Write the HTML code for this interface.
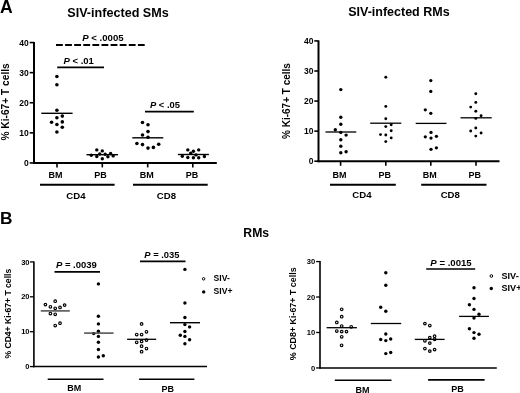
<!DOCTYPE html>
<html><head><meta charset="utf-8"><style>
html,body{margin:0;padding:0;background:#fff;width:520px;height:393px;overflow:hidden}
svg{display:block;filter:grayscale(1)}
text{font-family:'Liberation Sans',sans-serif;font-weight:bold;fill:#000}
</style></head><body>
<svg width="520" height="393" viewBox="0 0 520 393">
<rect width="520" height="393" fill="#fff"/>
<text x="-0.10" y="12.60" font-size="17.6" text-anchor="start" >A</text>
<text x="118.00" y="16.60" font-size="12.6" text-anchor="middle" >SIV-infected SMs</text>
<line x1="34.00" y1="42.05" x2="34.00" y2="163.95" stroke="#000" stroke-width="2" />
<line x1="29.70" y1="162.95" x2="34.00" y2="162.95" stroke="#000" stroke-width="1.6" />
<text x="28.80" y="166.05" font-size="8.5" text-anchor="end" >0</text>
<line x1="29.70" y1="132.85" x2="34.00" y2="132.85" stroke="#000" stroke-width="1.6" />
<text x="28.80" y="135.95" font-size="8.5" text-anchor="end" >10</text>
<line x1="29.70" y1="102.75" x2="34.00" y2="102.75" stroke="#000" stroke-width="1.6" />
<text x="28.80" y="105.85" font-size="8.5" text-anchor="end" >20</text>
<line x1="29.70" y1="72.65" x2="34.00" y2="72.65" stroke="#000" stroke-width="1.6" />
<text x="28.80" y="75.75" font-size="8.5" text-anchor="end" >30</text>
<line x1="29.70" y1="42.55" x2="34.00" y2="42.55" stroke="#000" stroke-width="1.6" />
<text x="28.80" y="45.65" font-size="8.5" text-anchor="end" >40</text>
<line x1="33.00" y1="162.95" x2="216.80" y2="162.95" stroke="#000" stroke-width="2" />
<line x1="57.00" y1="162.95" x2="57.00" y2="167.40" stroke="#000" stroke-width="1.6" />
<line x1="102.30" y1="162.95" x2="102.30" y2="167.40" stroke="#000" stroke-width="1.6" />
<line x1="147.70" y1="162.95" x2="147.70" y2="167.40" stroke="#000" stroke-width="1.6" />
<line x1="192.80" y1="162.95" x2="192.80" y2="167.40" stroke="#000" stroke-width="1.6" />
<text x="55.50" y="177.80" font-size="9" text-anchor="middle" >BM</text>
<text x="100.60" y="177.80" font-size="9" text-anchor="middle" >PB</text>
<text x="146.80" y="177.80" font-size="9" text-anchor="middle" >BM</text>
<text x="192.10" y="177.80" font-size="9" text-anchor="middle" >PB</text>
<line x1="40.00" y1="184.80" x2="114.60" y2="184.80" stroke="#000" stroke-width="1.9" />
<line x1="133.00" y1="184.80" x2="207.70" y2="184.80" stroke="#000" stroke-width="1.9" />
<text x="75.90" y="198.50" font-size="9.6" text-anchor="middle" >CD4</text>
<text x="166.40" y="199.10" font-size="9.6" text-anchor="middle" >CD8</text>
<text transform="translate(9.0,101.9) rotate(-90)" font-size="10.2" text-anchor="middle">% Ki-67+ T cells</text>
<circle cx="56.9" cy="76.5" r="1.8" fill="#000"/>
<circle cx="56.9" cy="84.7" r="1.8" fill="#000"/>
<circle cx="56.9" cy="110.2" r="1.8" fill="#000"/>
<circle cx="56.9" cy="117.7" r="1.8" fill="#000"/>
<circle cx="62.3" cy="116.1" r="1.8" fill="#000"/>
<circle cx="51.6" cy="122.3" r="1.8" fill="#000"/>
<circle cx="56.9" cy="124.5" r="1.8" fill="#000"/>
<circle cx="62.3" cy="121.9" r="1.8" fill="#000"/>
<circle cx="62.3" cy="127.2" r="1.8" fill="#000"/>
<circle cx="56.9" cy="132" r="1.8" fill="#000"/>
<line x1="41.30" y1="113.30" x2="72.60" y2="113.30" stroke="#000" stroke-width="1.4" />
<circle cx="96.8" cy="149.9" r="1.7" fill="#000"/>
<circle cx="102.3" cy="150.9" r="1.7" fill="#000"/>
<circle cx="91.3" cy="155.2" r="1.7" fill="#000"/>
<circle cx="96.8" cy="156.5" r="1.7" fill="#000"/>
<circle cx="99.7" cy="154" r="1.7" fill="#000"/>
<circle cx="105.2" cy="154.2" r="1.7" fill="#000"/>
<circle cx="102.3" cy="158.75" r="1.7" fill="#000"/>
<circle cx="107.9" cy="156.8" r="1.7" fill="#000"/>
<circle cx="110.6" cy="153.5" r="1.7" fill="#000"/>
<circle cx="113.2" cy="155.9" r="1.7" fill="#000"/>
<line x1="86.50" y1="154.70" x2="118.00" y2="154.70" stroke="#000" stroke-width="1.4" />
<circle cx="142.5" cy="122.5" r="1.8" fill="#000"/>
<circle cx="148" cy="124.8" r="1.8" fill="#000"/>
<circle cx="148" cy="131.6" r="1.8" fill="#000"/>
<circle cx="142.5" cy="135" r="1.8" fill="#000"/>
<circle cx="148" cy="137.3" r="1.8" fill="#000"/>
<circle cx="136.9" cy="143.5" r="1.8" fill="#000"/>
<circle cx="142.5" cy="144.6" r="1.8" fill="#000"/>
<circle cx="148" cy="148.1" r="1.8" fill="#000"/>
<circle cx="153.4" cy="147.4" r="1.8" fill="#000"/>
<circle cx="158.7" cy="144.2" r="1.8" fill="#000"/>
<line x1="132.30" y1="137.80" x2="163.30" y2="137.80" stroke="#000" stroke-width="1.4" />
<circle cx="187.8" cy="149.9" r="1.7" fill="#000"/>
<circle cx="193.4" cy="151.3" r="1.7" fill="#000"/>
<circle cx="198.7" cy="149.9" r="1.7" fill="#000"/>
<circle cx="190.7" cy="153.3" r="1.7" fill="#000"/>
<circle cx="182.3" cy="156.3" r="1.7" fill="#000"/>
<circle cx="187.8" cy="157.5" r="1.7" fill="#000"/>
<circle cx="193.4" cy="157.8" r="1.7" fill="#000"/>
<circle cx="198.7" cy="157.8" r="1.7" fill="#000"/>
<circle cx="196" cy="154.9" r="1.7" fill="#000"/>
<circle cx="204.4" cy="156.5" r="1.7" fill="#000"/>
<line x1="177.90" y1="154.50" x2="208.90" y2="154.50" stroke="#000" stroke-width="1.4" />
<text x="102.9" y="40.5" font-size="9.6" text-anchor="middle"><tspan font-style="italic">P</tspan> &lt; .0005</text>
<line x1="56.00" y1="45.00" x2="144.70" y2="45.00" stroke="#000" stroke-width="1.8" stroke-dasharray="6.8 2.3"/>
<text x="78.7" y="63.8" font-size="9.5" text-anchor="middle"><tspan font-style="italic">P</tspan> &lt; .01</text>
<line x1="57.20" y1="67.40" x2="104.00" y2="67.40" stroke="#000" stroke-width="1.8" />
<text x="165" y="107.7" font-size="9.4" text-anchor="middle"><tspan font-style="italic">P</tspan> &lt; .05</text>
<line x1="145.00" y1="111.60" x2="193.80" y2="111.60" stroke="#000" stroke-width="1.8" />
<text x="398.90" y="16.40" font-size="12.5" text-anchor="middle" >SIV-infected RMs</text>
<line x1="318.50" y1="40.42" x2="318.50" y2="162.20" stroke="#000" stroke-width="2" />
<line x1="314.30" y1="161.20" x2="318.50" y2="161.20" stroke="#000" stroke-width="1.6" />
<text x="313.40" y="164.30" font-size="8.5" text-anchor="end" >0</text>
<line x1="314.30" y1="131.13" x2="318.50" y2="131.13" stroke="#000" stroke-width="1.6" />
<text x="313.40" y="134.23" font-size="8.5" text-anchor="end" >10</text>
<line x1="314.30" y1="101.06" x2="318.50" y2="101.06" stroke="#000" stroke-width="1.6" />
<text x="313.40" y="104.16" font-size="8.5" text-anchor="end" >20</text>
<line x1="314.30" y1="70.99" x2="318.50" y2="70.99" stroke="#000" stroke-width="1.6" />
<text x="313.40" y="74.09" font-size="8.5" text-anchor="end" >30</text>
<line x1="314.30" y1="40.92" x2="318.50" y2="40.92" stroke="#000" stroke-width="1.6" />
<text x="313.40" y="44.02" font-size="8.5" text-anchor="end" >40</text>
<line x1="317.50" y1="161.20" x2="499.50" y2="161.20" stroke="#000" stroke-width="2" />
<line x1="340.60" y1="161.20" x2="340.60" y2="165.80" stroke="#000" stroke-width="1.6" />
<line x1="385.80" y1="161.20" x2="385.80" y2="165.80" stroke="#000" stroke-width="1.6" />
<line x1="430.80" y1="161.20" x2="430.80" y2="165.80" stroke="#000" stroke-width="1.6" />
<line x1="476.00" y1="161.20" x2="476.00" y2="165.80" stroke="#000" stroke-width="1.6" />
<text x="339.50" y="177.70" font-size="9" text-anchor="middle" >BM</text>
<text x="384.75" y="177.70" font-size="9" text-anchor="middle" >PB</text>
<text x="429.70" y="177.70" font-size="9" text-anchor="middle" >BM</text>
<text x="474.75" y="177.70" font-size="9" text-anchor="middle" >PB</text>
<line x1="330.00" y1="184.80" x2="395.80" y2="184.80" stroke="#000" stroke-width="1.9" />
<line x1="421.20" y1="184.80" x2="486.50" y2="184.80" stroke="#000" stroke-width="1.9" />
<text x="361.90" y="197.90" font-size="9.6" text-anchor="middle" >CD4</text>
<text x="450.30" y="197.90" font-size="9.6" text-anchor="middle" >CD8</text>
<text transform="translate(289.6,101) rotate(-90)" font-size="10" text-anchor="middle">% Ki-67+ T cells</text>
<circle cx="340.8" cy="89.6" r="1.7" fill="#000"/>
<circle cx="340.8" cy="117.3" r="1.7" fill="#000"/>
<circle cx="340.8" cy="124.3" r="1.7" fill="#000"/>
<circle cx="335.3" cy="129.8" r="1.7" fill="#000"/>
<circle cx="340.8" cy="132.4" r="1.7" fill="#000"/>
<circle cx="346.1" cy="135.1" r="1.7" fill="#000"/>
<circle cx="340.8" cy="139.8" r="1.7" fill="#000"/>
<circle cx="340.8" cy="146.3" r="1.7" fill="#000"/>
<circle cx="340.8" cy="152.7" r="1.7" fill="#000"/>
<circle cx="346.1" cy="151.8" r="1.7" fill="#000"/>
<line x1="325.50" y1="132.00" x2="356.30" y2="132.00" stroke="#000" stroke-width="1.3" />
<circle cx="385.8" cy="77.2" r="1.45" fill="#000"/>
<circle cx="385.8" cy="106.4" r="1.45" fill="#000"/>
<circle cx="385.8" cy="118.7" r="1.45" fill="#000"/>
<circle cx="385.8" cy="126.6" r="1.45" fill="#000"/>
<circle cx="391.2" cy="124.8" r="1.45" fill="#000"/>
<circle cx="391.2" cy="130.8" r="1.45" fill="#000"/>
<circle cx="380.5" cy="134.6" r="1.45" fill="#000"/>
<circle cx="385.8" cy="135" r="1.45" fill="#000"/>
<circle cx="391.2" cy="137.9" r="1.45" fill="#000"/>
<circle cx="385.8" cy="141.6" r="1.45" fill="#000"/>
<line x1="370.20" y1="123.20" x2="401.30" y2="123.20" stroke="#000" stroke-width="1.3" />
<circle cx="430.8" cy="80.6" r="1.65" fill="#000"/>
<circle cx="430.8" cy="91.4" r="1.65" fill="#000"/>
<circle cx="425.3" cy="109.8" r="1.65" fill="#000"/>
<circle cx="430.8" cy="113.3" r="1.65" fill="#000"/>
<circle cx="431" cy="132.4" r="1.65" fill="#000"/>
<circle cx="425.3" cy="136.8" r="1.65" fill="#000"/>
<circle cx="431" cy="138.1" r="1.65" fill="#000"/>
<circle cx="436.4" cy="136.3" r="1.65" fill="#000"/>
<circle cx="431" cy="149.3" r="1.65" fill="#000"/>
<circle cx="436.4" cy="147.8" r="1.65" fill="#000"/>
<line x1="415.70" y1="123.40" x2="446.50" y2="123.40" stroke="#000" stroke-width="1.3" />
<circle cx="475.8" cy="93.7" r="1.45" fill="#000"/>
<circle cx="475.8" cy="102.4" r="1.45" fill="#000"/>
<circle cx="470.7" cy="107.1" r="1.45" fill="#000"/>
<circle cx="475.8" cy="111.2" r="1.45" fill="#000"/>
<circle cx="481.1" cy="115.7" r="1.45" fill="#000"/>
<circle cx="475.8" cy="118.4" r="1.45" fill="#000"/>
<circle cx="475.8" cy="128" r="1.45" fill="#000"/>
<circle cx="470.7" cy="131" r="1.45" fill="#000"/>
<circle cx="481.1" cy="133" r="1.45" fill="#000"/>
<circle cx="475.8" cy="136.1" r="1.45" fill="#000"/>
<line x1="460.50" y1="117.80" x2="491.70" y2="117.80" stroke="#000" stroke-width="1.3" />
<text x="-0.10" y="224.30" font-size="17.3" text-anchor="start" >B</text>
<text x="256.20" y="237.00" font-size="12.2" text-anchor="middle" >RMs</text>
<line x1="33.90" y1="261.43" x2="33.90" y2="367.27" stroke="#000" stroke-width="1.6" />
<line x1="30.00" y1="366.57" x2="33.90" y2="366.57" stroke="#000" stroke-width="1.3" />
<text x="29.60" y="369.17" font-size="7.6" text-anchor="end" >0</text>
<line x1="30.00" y1="331.69" x2="33.90" y2="331.69" stroke="#000" stroke-width="1.3" />
<text x="29.60" y="334.29" font-size="7.6" text-anchor="end" >10</text>
<line x1="30.00" y1="296.81" x2="33.90" y2="296.81" stroke="#000" stroke-width="1.3" />
<text x="29.60" y="299.41" font-size="7.6" text-anchor="end" >20</text>
<line x1="30.00" y1="261.93" x2="33.90" y2="261.93" stroke="#000" stroke-width="1.3" />
<text x="29.60" y="264.53" font-size="7.6" text-anchor="end" >30</text>
<line x1="33.00" y1="366.57" x2="207.00" y2="366.57" stroke="#000" stroke-width="1.4" />
<line x1="47.70" y1="379.20" x2="103.50" y2="379.20" stroke="#000" stroke-width="1.6" />
<line x1="139.10" y1="379.20" x2="194.40" y2="379.20" stroke="#000" stroke-width="1.6" />
<text x="74.30" y="391.30" font-size="9" text-anchor="middle" >BM</text>
<text x="167.80" y="392.00" font-size="9" text-anchor="middle" >PB</text>
<text transform="translate(10.5,313.7) rotate(-90)" font-size="8.6" text-anchor="middle">% CD4+ Ki-67+ T cells</text>
<text x="76.4" y="267.5" font-size="9.5" text-anchor="middle"><tspan font-style="italic">P</tspan> = .0039</text>
<line x1="54.50" y1="271.80" x2="100.00" y2="271.80" stroke="#000" stroke-width="1.7" />
<text x="161.9" y="258.0" font-size="9.4" text-anchor="middle"><tspan font-style="italic">P</tspan> = .035</text>
<line x1="140.00" y1="261.40" x2="185.50" y2="261.40" stroke="#000" stroke-width="1.7" />
<circle cx="203.6" cy="278.8" r="1.25" fill="#fff" stroke="#000" stroke-width="1.0"/>
<circle cx="203.7" cy="291.9" r="1.7" fill="#000"/>
<text x="213.60" y="281.20" font-size="8.6" text-anchor="start" >SIV-</text>
<text x="213.60" y="294.40" font-size="8.6" text-anchor="start" >SIV+</text>
<circle cx="55.2" cy="301.2" r="1.3" fill="#fff" stroke="#000" stroke-width="1.15"/>
<circle cx="45.4" cy="304.6" r="1.3" fill="#fff" stroke="#000" stroke-width="1.15"/>
<circle cx="64.6" cy="305.1" r="1.3" fill="#fff" stroke="#000" stroke-width="1.15"/>
<circle cx="50.4" cy="306.8" r="1.3" fill="#fff" stroke="#000" stroke-width="1.15"/>
<circle cx="60" cy="307.4" r="1.3" fill="#fff" stroke="#000" stroke-width="1.15"/>
<circle cx="55.2" cy="308.3" r="1.3" fill="#fff" stroke="#000" stroke-width="1.15"/>
<circle cx="50.4" cy="313.5" r="1.3" fill="#fff" stroke="#000" stroke-width="1.15"/>
<circle cx="55.2" cy="314.3" r="1.3" fill="#fff" stroke="#000" stroke-width="1.15"/>
<circle cx="60" cy="323.2" r="1.3" fill="#fff" stroke="#000" stroke-width="1.15"/>
<circle cx="55.2" cy="325.5" r="1.3" fill="#fff" stroke="#000" stroke-width="1.15"/>
<line x1="40.80" y1="310.90" x2="69.80" y2="310.90" stroke="#4a4a4a" stroke-width="1.5" />
<circle cx="98.4" cy="283.9" r="1.7" fill="#000"/>
<circle cx="98.4" cy="316.3" r="1.7" fill="#000"/>
<circle cx="98.4" cy="323.9" r="1.7" fill="#000"/>
<circle cx="98.4" cy="331.2" r="1.7" fill="#000"/>
<circle cx="93.7" cy="333.6" r="1.7" fill="#000"/>
<circle cx="98.4" cy="336.4" r="1.7" fill="#000"/>
<circle cx="98.4" cy="342.3" r="1.7" fill="#000"/>
<circle cx="98.4" cy="349.5" r="1.7" fill="#000"/>
<circle cx="98.4" cy="357" r="1.7" fill="#000"/>
<circle cx="103.3" cy="355.7" r="1.7" fill="#000"/>
<line x1="84.10" y1="333.10" x2="113.60" y2="333.10" stroke="#4a4a4a" stroke-width="1.5" />
<circle cx="141.6" cy="323.9" r="1.3" fill="#fff" stroke="#000" stroke-width="1.15"/>
<circle cx="146.5" cy="331.8" r="1.3" fill="#fff" stroke="#000" stroke-width="1.15"/>
<circle cx="136.7" cy="334.5" r="1.3" fill="#fff" stroke="#000" stroke-width="1.15"/>
<circle cx="141.6" cy="334.5" r="1.3" fill="#fff" stroke="#000" stroke-width="1.15"/>
<circle cx="146.5" cy="340" r="1.3" fill="#fff" stroke="#000" stroke-width="1.15"/>
<circle cx="136.7" cy="342.3" r="1.3" fill="#fff" stroke="#000" stroke-width="1.15"/>
<circle cx="141.6" cy="341.4" r="1.3" fill="#fff" stroke="#000" stroke-width="1.15"/>
<circle cx="141.6" cy="346.2" r="1.3" fill="#fff" stroke="#000" stroke-width="1.15"/>
<circle cx="146.5" cy="348.5" r="1.3" fill="#fff" stroke="#000" stroke-width="1.15"/>
<circle cx="141.6" cy="351.7" r="1.3" fill="#fff" stroke="#000" stroke-width="1.15"/>
<line x1="127.10" y1="339.30" x2="156.20" y2="339.30" stroke="#000" stroke-width="1.3" />
<circle cx="184.9" cy="269.4" r="1.7" fill="#000"/>
<circle cx="184.9" cy="303.0" r="1.7" fill="#000"/>
<circle cx="184.9" cy="317.5" r="1.7" fill="#000"/>
<circle cx="184.9" cy="324.6" r="1.7" fill="#000"/>
<circle cx="189.6" cy="326.9" r="1.7" fill="#000"/>
<circle cx="184.9" cy="331.5" r="1.7" fill="#000"/>
<circle cx="180.3" cy="335.3" r="1.7" fill="#000"/>
<circle cx="184.9" cy="336.4" r="1.7" fill="#000"/>
<circle cx="189.6" cy="339.8" r="1.7" fill="#000"/>
<circle cx="184.9" cy="343.7" r="1.7" fill="#000"/>
<line x1="170.00" y1="322.70" x2="200.00" y2="322.70" stroke="#000" stroke-width="1.4" />
<line x1="320.00" y1="261.06" x2="320.00" y2="368.64" stroke="#000" stroke-width="1.6" />
<line x1="316.10" y1="367.94" x2="320.00" y2="367.94" stroke="#000" stroke-width="1.3" />
<text x="315.30" y="370.54" font-size="7.6" text-anchor="end" >0</text>
<line x1="316.10" y1="332.48" x2="320.00" y2="332.48" stroke="#000" stroke-width="1.3" />
<text x="315.30" y="335.08" font-size="7.6" text-anchor="end" >10</text>
<line x1="316.10" y1="297.02" x2="320.00" y2="297.02" stroke="#000" stroke-width="1.3" />
<text x="315.30" y="299.62" font-size="7.6" text-anchor="end" >20</text>
<line x1="316.10" y1="261.56" x2="320.00" y2="261.56" stroke="#000" stroke-width="1.3" />
<text x="315.30" y="264.16" font-size="7.6" text-anchor="end" >30</text>
<line x1="319.80" y1="367.94" x2="496.80" y2="367.94" stroke="#000" stroke-width="1.4" />
<line x1="334.80" y1="380.20" x2="391.50" y2="380.20" stroke="#000" stroke-width="1.6" />
<line x1="428.10" y1="379.90" x2="484.60" y2="379.90" stroke="#000" stroke-width="1.6" />
<text x="362.50" y="393.10" font-size="9" text-anchor="middle" >BM</text>
<text x="457.60" y="392.40" font-size="9" text-anchor="middle" >PB</text>
<text transform="translate(296.3,313.8) rotate(-90)" font-size="8.9" text-anchor="middle">% CD8+ Ki-67+ T cells</text>
<text x="451.0" y="266.0" font-size="9.6" text-anchor="middle"><tspan font-style="italic">P</tspan> = .0015</text>
<line x1="426.20" y1="269.00" x2="475.20" y2="269.00" stroke="#000" stroke-width="1.7" />
<circle cx="491.4" cy="276" r="1.35" fill="#fff" stroke="#000" stroke-width="1.0"/>
<circle cx="491.3" cy="288.5" r="1.7" fill="#000"/>
<text x="501.50" y="278.60" font-size="9.1" text-anchor="start" >SIV-</text>
<text x="501.50" y="291.10" font-size="9.1" text-anchor="start" >SIV+</text>
<circle cx="341.7" cy="309.3" r="1.3" fill="#fff" stroke="#000" stroke-width="1.15"/>
<circle cx="341.7" cy="316.7" r="1.3" fill="#fff" stroke="#000" stroke-width="1.15"/>
<circle cx="336.8" cy="322.4" r="1.3" fill="#fff" stroke="#000" stroke-width="1.15"/>
<circle cx="341.7" cy="326" r="1.3" fill="#fff" stroke="#000" stroke-width="1.15"/>
<circle cx="351.2" cy="326.8" r="1.3" fill="#fff" stroke="#000" stroke-width="1.15"/>
<circle cx="336.8" cy="331" r="1.3" fill="#fff" stroke="#000" stroke-width="1.15"/>
<circle cx="341.7" cy="331.6" r="1.3" fill="#fff" stroke="#000" stroke-width="1.15"/>
<circle cx="346.5" cy="331.6" r="1.3" fill="#fff" stroke="#000" stroke-width="1.15"/>
<circle cx="341.7" cy="336.8" r="1.3" fill="#fff" stroke="#000" stroke-width="1.15"/>
<circle cx="341.6" cy="345.3" r="1.3" fill="#fff" stroke="#000" stroke-width="1.15"/>
<line x1="326.60" y1="327.70" x2="356.90" y2="327.70" stroke="#000" stroke-width="1.3" />
<circle cx="385.8" cy="272.8" r="1.7" fill="#000"/>
<circle cx="385.8" cy="285.3" r="1.7" fill="#000"/>
<circle cx="380.7" cy="307.2" r="1.7" fill="#000"/>
<circle cx="385.8" cy="311.2" r="1.7" fill="#000"/>
<circle cx="385.8" cy="334" r="1.7" fill="#000"/>
<circle cx="380.7" cy="339.5" r="1.7" fill="#000"/>
<circle cx="385.8" cy="340.6" r="1.7" fill="#000"/>
<circle cx="390.7" cy="339" r="1.7" fill="#000"/>
<circle cx="385.8" cy="353.6" r="1.7" fill="#000"/>
<circle cx="390.7" cy="352.5" r="1.7" fill="#000"/>
<line x1="370.80" y1="323.50" x2="401.20" y2="323.50" stroke="#000" stroke-width="1.3" />
<circle cx="424.9" cy="323.6" r="1.3" fill="#fff" stroke="#000" stroke-width="1.15"/>
<circle cx="429.8" cy="325.5" r="1.3" fill="#fff" stroke="#000" stroke-width="1.15"/>
<circle cx="429.8" cy="337.6" r="1.3" fill="#fff" stroke="#000" stroke-width="1.15"/>
<circle cx="434.6" cy="336.2" r="1.3" fill="#fff" stroke="#000" stroke-width="1.15"/>
<circle cx="434.6" cy="339.3" r="1.3" fill="#fff" stroke="#000" stroke-width="1.15"/>
<circle cx="424.9" cy="340.8" r="1.3" fill="#fff" stroke="#000" stroke-width="1.15"/>
<circle cx="429.8" cy="343.1" r="1.3" fill="#fff" stroke="#000" stroke-width="1.15"/>
<circle cx="424.9" cy="348.5" r="1.3" fill="#fff" stroke="#000" stroke-width="1.15"/>
<circle cx="429.8" cy="351.1" r="1.3" fill="#fff" stroke="#000" stroke-width="1.15"/>
<circle cx="434.6" cy="349.6" r="1.3" fill="#fff" stroke="#000" stroke-width="1.15"/>
<line x1="414.80" y1="339.40" x2="444.60" y2="339.40" stroke="#000" stroke-width="1.3" />
<circle cx="474" cy="287.8" r="1.7" fill="#000"/>
<circle cx="474" cy="298.5" r="1.7" fill="#000"/>
<circle cx="469.4" cy="304.8" r="1.7" fill="#000"/>
<circle cx="474" cy="309.4" r="1.7" fill="#000"/>
<circle cx="479" cy="314.2" r="1.7" fill="#000"/>
<circle cx="474" cy="318" r="1.7" fill="#000"/>
<circle cx="469.4" cy="328.8" r="1.7" fill="#000"/>
<circle cx="474" cy="332.6" r="1.7" fill="#000"/>
<circle cx="479" cy="334.2" r="1.7" fill="#000"/>
<circle cx="474" cy="338.2" r="1.7" fill="#000"/>
<line x1="459.10" y1="316.40" x2="488.90" y2="316.40" stroke="#000" stroke-width="1.3" />
</svg>
</body></html>
